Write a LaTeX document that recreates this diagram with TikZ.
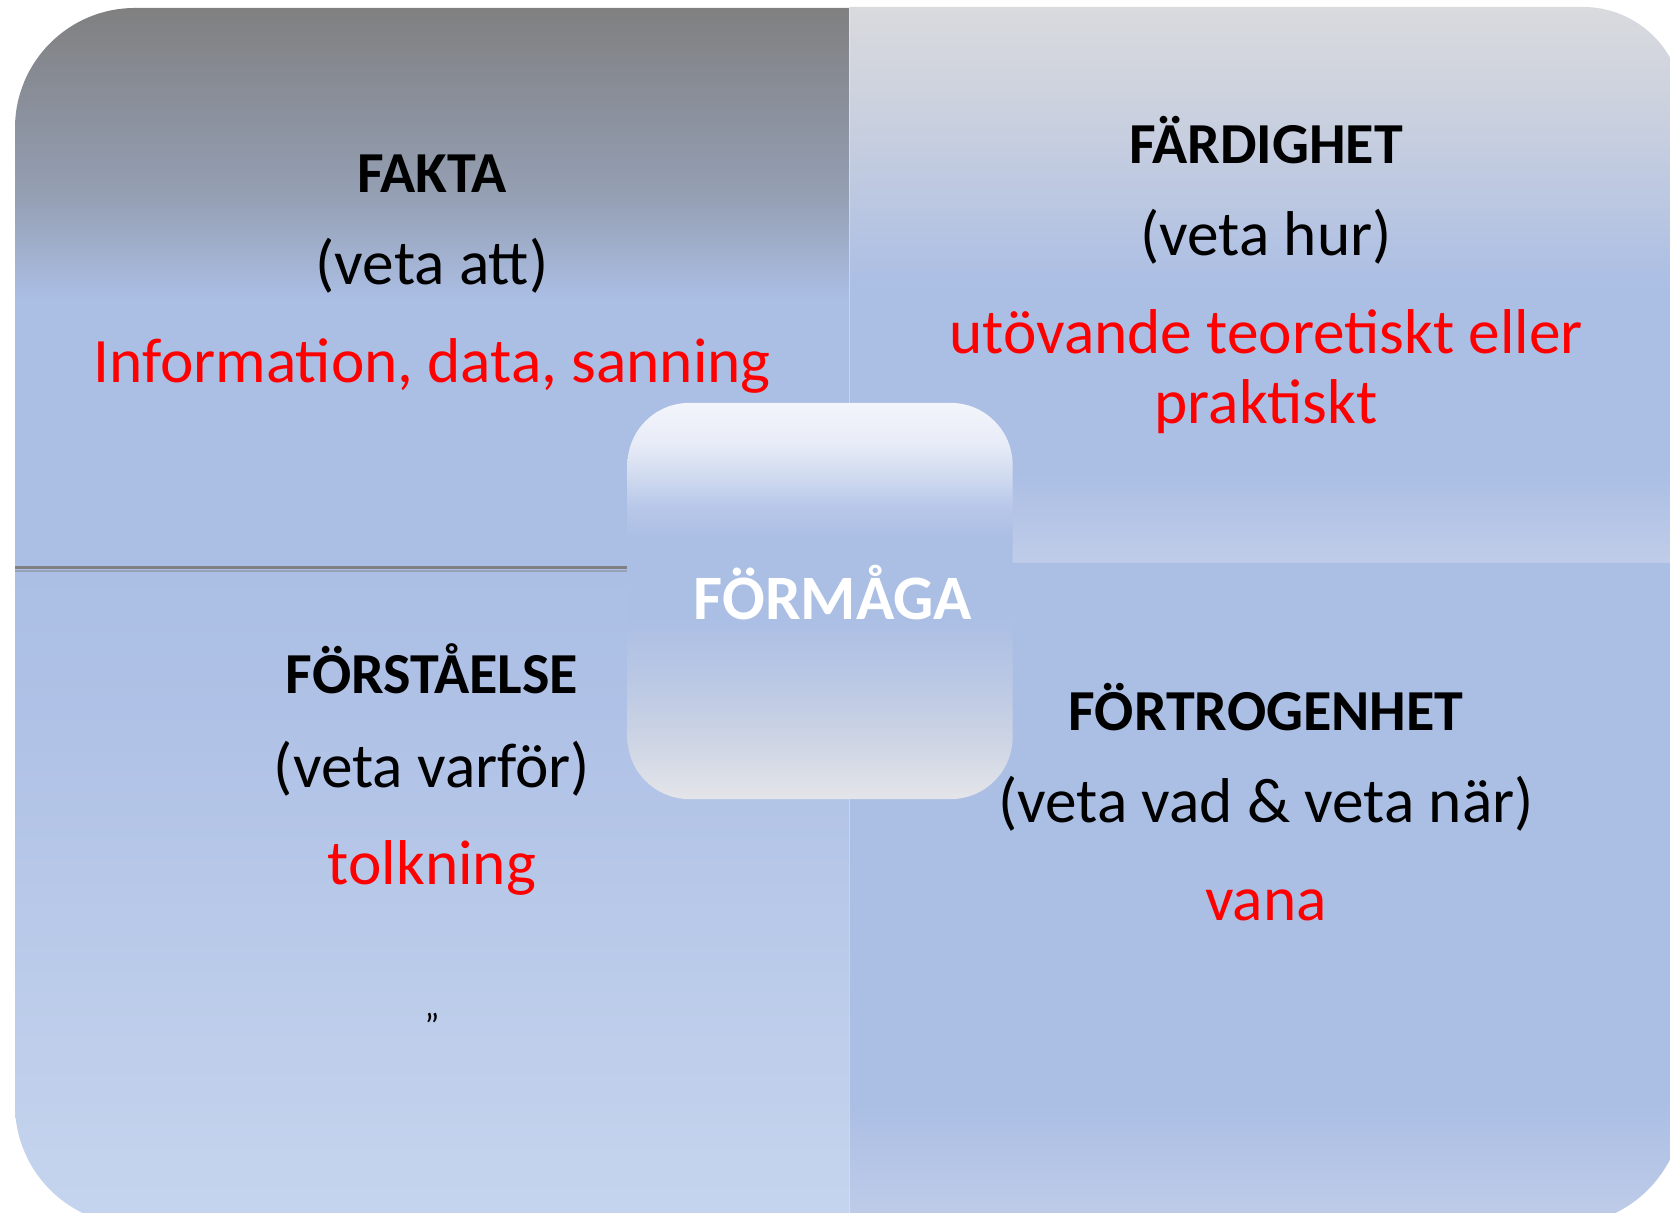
\documentclass[tikz,border=0pt]{standalone}
\usepackage{fontspec}
\setmainfont{Carlito}

\definecolor{paleblue}{RGB}{171,190,228}
\definecolor{darkgray}{RGB}{128,128,128}
\definecolor{midgray}{RGB}{137,142,153}
\definecolor{bluegray}{RGB}{149,160,180}
\definecolor{lightgray}{RGB}{217,218,222}
\definecolor{lightgray2}{RGB}{205,210,222}
\definecolor{lightgray3}{RGB}{188,200,225}
\definecolor{fadeblue}{RGB}{192,205,233}
\definecolor{lowblue}{RGB}{176,194,230}
\definecolor{bottomblue}{RGB}{198,213,238}
\definecolor{boxtop}{RGB}{243,245,251}
\definecolor{boxtop2}{RGB}{232,236,247}
\definecolor{boxtop3}{RGB}{210,220,240}
\definecolor{boxtop4}{RGB}{185,200,233}
\definecolor{boxlow}{RGB}{186,200,228}
\definecolor{boxlow2}{RGB}{206,213,228}
\definecolor{boxbottom}{RGB}{228,229,233}
\definecolor{linegray}{RGB}{150,160,182}
\definecolor{exred}{RGB}{255,0,0}

% shadings: 25bp = bottom of the path, 75bp = top
\pgfdeclareverticalshading{faktashade}{100bp}{color(0bp)=(paleblue); color(49bp)=(paleblue); color(58bp)=(bluegray); color(67bp)=(midgray); color(75bp)=(darkgray); color(100bp)=(darkgray)}
\pgfdeclareverticalshading{fardshade}{100bp}{color(0bp)=(fadeblue); color(25bp)=(fadeblue); color(33bp)=(paleblue); color(50bp)=(paleblue); color(58bp)=(lightgray3); color(67bp)=(lightgray2); color(75bp)=(lightgray); color(100bp)=(lightgray)}
\pgfdeclareverticalshading{forstshade}{100bp}{color(0bp)=(bottomblue); color(25bp)=(bottomblue); color(62bp)=(lowblue); color(75bp)=(paleblue); color(100bp)=(paleblue)}
\pgfdeclareverticalshading{fortrshade}{100bp}{color(0bp)=(fadeblue); color(25bp)=(fadeblue); color(34bp)=(paleblue); color(100bp)=(paleblue)}
\pgfdeclareverticalshading{boxshade}{100bp}{color(0bp)=(boxbottom); color(25bp)=(boxbottom); color(32bp)=(boxlow2); color(40bp)=(boxlow); color(48bp)=(paleblue); color(58bp)=(paleblue); color(62bp)=(boxtop4); color(66bp)=(boxtop3); color(70bp)=(boxtop2); color(75bp)=(boxtop); color(100bp)=(boxtop)}

\begin{document}
\begin{tikzpicture}[x=0.01cm, y=0.01cm,
    quadtitle/.style={anchor=base, font=\fontsize{16.5}{20}\selectfont\bfseries, text=black},
    quadsub/.style={anchor=base, font=\fontsize{18}{20}\selectfont, text=black},
    quadnote/.style={anchor=base, font=\fontsize{18}{20}\selectfont, text=exred, align=center}]
\useasboundingbox (0,0) rectangle (1670,1213);
\fill[white] (0,0) rectangle (1670,1213);

% Four quadrants
\shade[shading=faktashade] (849,645) -- (849,1205) -- (135,1205) arc[start angle=90, end angle=180, radius=120] -- (15,645) -- cycle;
\shade[shading=forstshade] (849,646) -- (849,-12) -- (135,-12) arc[start angle=270, end angle=180, radius=120] -- (15,646) -- cycle;
\shade[shading=fardshade] (849,649) -- (849,1206) -- (1583,1206) arc[start angle=90, end angle=0, radius=100] -- (1683,649) -- cycle;
\shade[shading=fortrshade] (849,650) -- (849,-12) -- (1563,-12) arc[start angle=270, end angle=360, radius=120] -- (1683,650) -- cycle;

% Dividers
\draw[white, opacity=0.35, line width=0.01cm] (849,1206) -- (849,-12);
\draw[linegray, line width=0.02cm] (15,642) -- (628,642);
\draw[darkgray, line width=0.03cm] (15,645) -- (628,645);

% FAKTA
\node[quadtitle] (fakta) at (432,1020) {FAKTA};
\node[quadsub] (fakta-sub) at (432,928) {(veta att)};
\node[quadnote] (fakta-note) at (432,830) {Information, data, sanning};

% FÄRDIGHET (base anchor sits on the last line)
\node[quadtitle] (fard) at (1266,1049) {FÄRDIGHET};
\node[quadsub] (fard-sub) at (1266,957) {(veta hur)};
\node[quadnote] (fard-note) at (1266,789) {utövande teoretiskt eller\\praktiskt};

% FÖRSTÅELSE
\node[quadtitle] (forst) at (432,519) {FÖRSTÅELSE};
\node[quadsub] (forst-sub) at (432,425) {(veta varför)};
\node[quadnote] (forst-note) at (432,328) {tolkning};
\node[anchor=base, font=\fontsize{10}{12}\selectfont] (forst-quote) at (432,195) {„};

% FÖRTROGENHET
\node[quadtitle] (fortr) at (1266,482) {FÖRTROGENHET};
\node[quadsub] (fortr-sub) at (1266,390) {(veta vad \& veta när)};
\node[quadnote] (fortr-note) at (1266,292) {vana};

% Centre box
\node[shading=boxshade, rounded corners=0.62cm, minimum width=3.85cm, minimum height=3.96cm, inner sep=0pt] (formaga-box) at (820,612) {};
\node[anchor=base, font=\fontsize{18}{20}\selectfont\bfseries, text=white] (formaga) at (833,593) {FÖRMÅGA};

\end{tikzpicture}
\end{document}
